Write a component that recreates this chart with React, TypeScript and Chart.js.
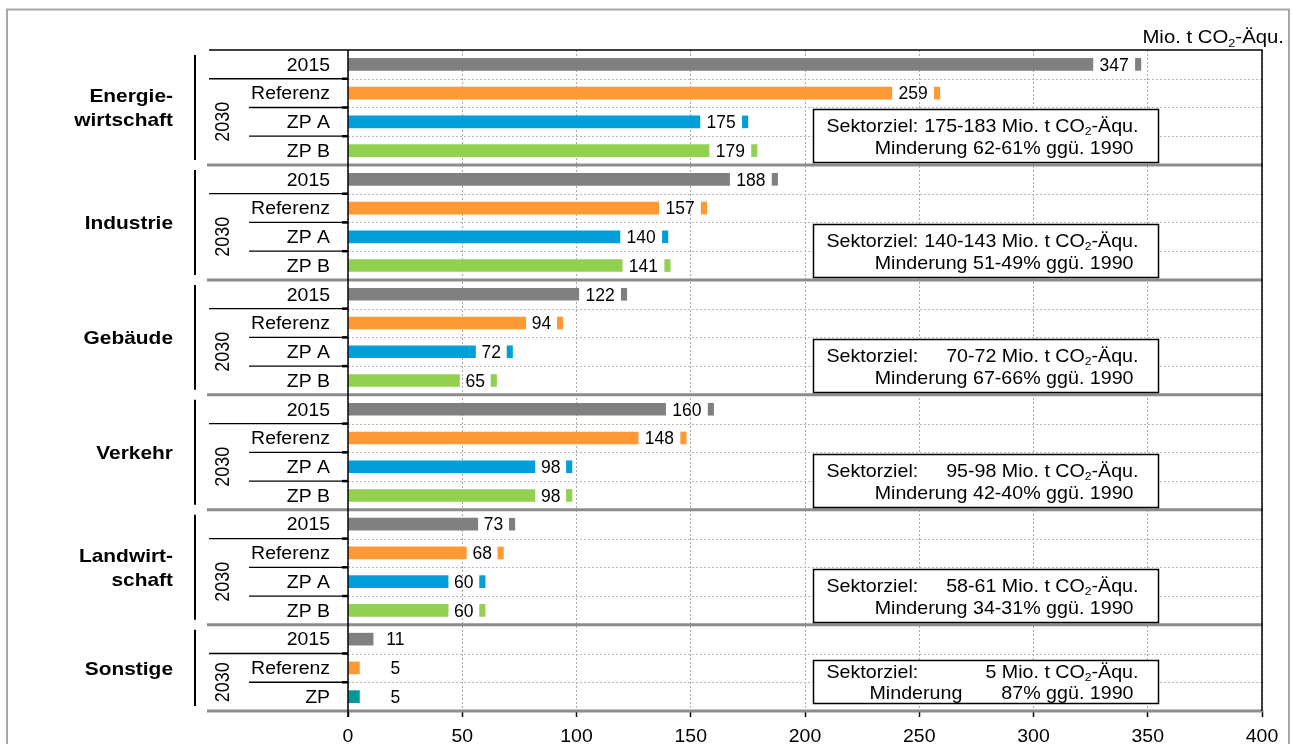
import React, { useEffect, useRef } from 'react';
import { Chart, registerables } from 'chart.js';

Chart.register(...registerables);

// ---------- data ----------
const sectorNames = ['Energiewirtschaft', 'Industrie', 'Gebäude', 'Verkehr', 'Landwirtschaft', 'Sonstige'];
const sectorLabelLines = [['Energie-', 'wirtschaft'], ['Industrie'], ['Gebäude'], ['Verkehr'], ['Landwirt-', 'schaft'], ['Sonstige']];
const scenarioLabels = ['2015', 'Referenz', 'ZP A', 'ZP B'];
const sonstigeScenarioLabels = ['2015', 'Referenz', 'ZP'];
const yearGroupLabel = '2030';

const values2015 = [347, 188, 122, 160, 73, 11];
const valuesReferenz = [259, 157, 94, 148, 68, 5];
const valuesZPA = [175, 140, 72, 98, 60];
const valuesZPB = [179, 141, 65, 98, 60];
const valuesZPSonstige = [5];

const targetRanges = ['175-183', '140-143', '70-72', '95-98', '58-61', '5'];
const reductionRanges = ['62-61%', '51-49%', '67-66%', '42-40%', '34-31%', '87%'];

const xTickValues = [0, 50, 100, 150, 200, 250, 300, 350, 400];
const unitLabel = 'Mio. t CO₂-Äqu.';

const scenarioColors: Record<string, string> = {
  '2015': '#808080',
  Referenz: '#FF9933',
  'ZP A': '#009FDA',
  'ZP B': '#92D050',
  ZP: '#009999',
};

// ---------- rows ----------
type Row = { id: string; sector: number; scenario: string; value: number; idx: number };
const rows: Row[] = [];
sectorNames.forEach((s, i) => {
  const isLast = i === sectorNames.length - 1;
  const scen = isLast ? sonstigeScenarioLabels : scenarioLabels;
  const vals = isLast
    ? [values2015[i], valuesReferenz[i], valuesZPSonstige[0]]
    : [values2015[i], valuesReferenz[i], valuesZPA[i], valuesZPB[i]];
  scen.forEach((sc, k) => rows.push({ id: s + '|' + sc, sector: i, scenario: sc, value: vals[k], idx: k }));
});

const SONSTIGE = sectorNames.length - 1;
const labelGap = (v: number) => String(v).length * 4.8 + 6.6; // room for the value label (axis units)
const markerWidth = 2.4;
const sonstigeLabelAt = 20.7;

const FONT = '"Liberation Sans", Arial, Helvetica, sans-serif';
const SX = 1.08;

function setFont(ctx: CanvasRenderingContext2D, size: number, bold = false) {
  ctx.font = `${bold ? 'bold ' : ''}${size}px ${FONT}`;
}

function textWidth(ctx: CanvasRenderingContext2D, text: string, size: number, sx = SX, bold = false) {
  setFont(ctx, size, bold);
  return ctx.measureText(text).width * sx;
}

function drawText(
  ctx: CanvasRenderingContext2D,
  text: string,
  x: number,
  y: number,
  size: number,
  align: CanvasTextAlign = 'left',
  sx = SX,
  bold = false,
) {
  ctx.save();
  ctx.translate(x, y);
  ctx.scale(sx, 1);
  setFont(ctx, size, bold);
  ctx.textAlign = align;
  ctx.textBaseline = 'alphabetic';
  ctx.fillStyle = '#000';
  ctx.fillText(text, 0, 0);
  ctx.restore();
}

// rich text: '₂' drawn as a real subscript
function splitRich(text: string) {
  const parts: { t: string; sub: boolean }[] = [];
  let cur = '';
  for (const ch of text) {
    if (ch === '₂') {
      if (cur) parts.push({ t: cur, sub: false });
      parts.push({ t: '2', sub: true });
      cur = '';
    } else cur += ch;
  }
  if (cur) parts.push({ t: cur, sub: false });
  return parts;
}

function richWidth(ctx: CanvasRenderingContext2D, text: string, size: number, sx = SX) {
  let w = 0;
  for (const p of splitRich(text)) {
    setFont(ctx, p.sub ? size * 0.62 : size);
    w += ctx.measureText(p.t).width * sx;
  }
  return w;
}

function drawRich(
  ctx: CanvasRenderingContext2D,
  text: string,
  x: number,
  y: number,
  size: number,
  align: 'left' | 'right' = 'left',
  sx = SX,
) {
  const total = richWidth(ctx, text, size, sx);
  let cx = align === 'right' ? x - total : x;
  for (const p of splitRich(text)) {
    const s = p.sub ? size * 0.62 : size;
    ctx.save();
    setFont(ctx, s);
    const w = ctx.measureText(p.t).width * sx;
    ctx.translate(cx, y + (p.sub ? 3.6 : 0));
    ctx.scale(sx, 1);
    ctx.textAlign = 'left';
    ctx.textBaseline = 'alphabetic';
    ctx.fillStyle = '#000';
    ctx.fillText(p.t, 0, 0);
    ctx.restore();
    cx += w;
  }
}

function line(ctx: CanvasRenderingContext2D, x1: number, y1: number, x2: number, y2: number, color: string, w: number, dash: number[] = []) {
  ctx.save();
  ctx.strokeStyle = color;
  ctx.lineWidth = w;
  ctx.setLineDash(dash);
  ctx.beginPath();
  ctx.moveTo(x1, y1);
  ctx.lineTo(x2, y2);
  ctx.stroke();
  ctx.restore();
}

const BOX_FONT = 18.2;

const decorPlugin = {
  id: 'decor',
  beforeDraw(chart: any) {
    const ctx: CanvasRenderingContext2D = chart.ctx;
    ctx.save();
    ctx.fillStyle = '#fff';
    ctx.fillRect(0, 0, chart.width, chart.height);
    ctx.strokeStyle = '#a6a6a6';
    ctx.lineWidth = 2;
    ctx.strokeRect(7, 9.5, 1282, 800);
    ctx.restore();
  },
  beforeDatasetsDraw(chart: any) {
    const ctx: CanvasRenderingContext2D = chart.ctx;
    const ca = chart.chartArea;
    const y = chart.scales.y;
    rows.forEach((r, i) => {
      if (i === rows.length - 1 || rows[i + 1].sector !== r.sector) return;
      const yb = Math.round((y.getPixelForValue(i) + y.getPixelForValue(i + 1)) / 2) + 0.5;
      line(ctx, ca.left, yb, ca.right, yb, '#b8b8b8', 1, [2, 2]);
    });
  },
  afterDatasetsDraw(chart: any) {
    const ctx: CanvasRenderingContext2D = chart.ctx;
    const ca = chart.chartArea;
    const x = chart.scales.x;
    const y = chart.scales.y;
    const rowH = (ca.bottom - ca.top) / rows.length;
    const tableLeft = 209;
    const subLeft = 249;

    // table lines and group separators
    rows.forEach((r, i) => {
      const yc = y.getPixelForValue(i);
      const yBottom = yc + rowH / 2;
      const lastInGroup = i === rows.length - 1 || rows[i + 1].sector !== r.sector;
      if (lastInGroup) {
        line(ctx, tableLeft - 2, yBottom, ca.right + 1, yBottom, '#8c8c8c', 3);
      } else {
        const left = r.idx === 0 ? tableLeft : subLeft;
        line(ctx, left, yBottom, ca.left, yBottom, '#000', 1.3);
        line(ctx, ca.left - 6, yBottom, ca.left, yBottom, '#000', 2.5);
      }
    });
    // top border of plot + table
    line(ctx, tableLeft, ca.top, ca.right + 0.75, ca.top, '#000', 1.5);
    // right border
    line(ctx, ca.right, ca.top, ca.right, ca.bottom, '#000', 1.5);
    // value axis line (x = 0)
    const x0 = x.getPixelForValue(0);
    line(ctx, x0, ca.top, x0, ca.bottom + 6, '#000', 1.5);

    // sector labels, brackets, "2030"
    sectorNames.forEach((s, si) => {
      const idxs = rows.map((r, i) => (r.sector === si ? i : -1)).filter((i) => i >= 0);
      const gTop = y.getPixelForValue(idxs[0]) - rowH / 2;
      const gBot = y.getPixelForValue(idxs[idxs.length - 1]) + rowH / 2;
      line(ctx, 195, gTop + 5, 195, gBot - 5, '#000', 2);
      const lines = sectorLabelLines[si];
      const cy = (gTop + gBot) / 2;
      lines.forEach((t, li) => {
        drawText(ctx, t, 173, cy + 7 + (li - (lines.length - 1) / 2) * 24, 19, 'right', 1.1, true);
      });
      // 2030 rotated
      const y1 = y.getPixelForValue(idxs[1]) - rowH / 2;
      const cy2 = (y1 + gBot) / 2;
      ctx.save();
      ctx.translate(222, cy2);
      ctx.scale(1.1, 1);
      ctx.rotate(-Math.PI / 2);
      setFont(ctx, 18);
      ctx.textAlign = 'center';
      ctx.textBaseline = 'alphabetic';
      ctx.fillStyle = '#000';
      ctx.fillText(yearGroupLabel, 0, 6.4);
      ctx.restore();

      // target box
      const lastIdx = idxs[idxs.length - 1];
      const boundary = (y.getPixelForValue(lastIdx - 1) + y.getPixelForValue(lastIdx)) / 2 - 1;
      const bh = si === SONSTIGE ? 43 : 53;
      const bl = Math.round(x.getPixelForValue(203.5)) + 0.5;
      const br = Math.round(x.getPixelForValue(354.5)) + 0.5;
      const bt = Math.round(boundary - bh / 2) + 0.5;
      ctx.save();
      ctx.fillStyle = '#fff';
      ctx.fillRect(bl, bt, br - bl, bh);
      ctx.strokeStyle = '#000';
      ctx.lineWidth = 1.5;
      ctx.strokeRect(bl, bt, br - bl, bh);
      ctx.restore();
      const b1 = boundary - 3.5;
      const b2 = boundary + (si === SONSTIGE ? 17.5 : 19);
      const rest1 = `${targetRanges[si]} Mio. t CO₂-Äqu.`;
      const rest1Start = br - 20 - richWidth(ctx, rest1, BOX_FONT);
      const head = 'Sektorziel:';
      const headW = textWidth(ctx, head, BOX_FONT);
      const spaceW = textWidth(ctx, ' ', BOX_FONT);
      const headX = Math.min(bl + 13, rest1Start - spaceW - headW);
      drawText(ctx, head, headX, b1, BOX_FONT, 'left');
      drawRich(ctx, rest1, br - 20, b1, BOX_FONT, 'right');
      if (si === SONSTIGE) {
        drawText(ctx, 'Minderung', bl + 56, b2, BOX_FONT, 'left');
        drawText(ctx, `${reductionRanges[si]} ggü. 1990`, br - 25, b2, BOX_FONT, 'right');
      } else {
        drawText(ctx, `Minderung ${reductionRanges[si]} ggü. 1990`, br - 25, b2, BOX_FONT, 'right');
      }
    });

    // row labels and value labels
    rows.forEach((r, i) => {
      const yc = y.getPixelForValue(i);
      drawText(ctx, r.scenario, 330, yc + 6.3, 18, 'right');
      const lv = r.sector === SONSTIGE ? sonstigeLabelAt : r.value - labelGap(r.value) / 2 - markerWidth / 2;
      drawText(ctx, String(r.value), x.getPixelForValue(lv), yc + 6.3, 17.5, 'center', 1.0);
    });

    // x tick labels
    xTickValues.forEach((v) => {
      drawText(ctx, String(v), x.getPixelForValue(v), 742, 18, 'center');
    });

    // unit label
    drawRich(ctx, unitLabel, 1284, 43, 18.5, 'right', 1.1);
  },
};

export default function App() {
  const ref = useRef<HTMLCanvasElement>(null);
  useEffect(() => {
    const canvas = ref.current;
    if (!canvas) return;
    const barData = rows.map((r) => [0, r.sector === SONSTIGE ? r.value : r.value - labelGap(r.value)]);
    const markerData = rows.map((r) => (r.sector === SONSTIGE ? null : [r.value - markerWidth, r.value]));
    const colors = rows.map((r) => scenarioColors[r.scenario]);
    const chart = new Chart(canvas, {
      type: 'bar',
      data: {
        labels: rows.map((r) => r.id),
        datasets: [
          {
            data: barData as any,
            backgroundColor: colors,
            borderWidth: 0,
            barThickness: 12,
            grouped: false,
          } as any,
          {
            data: markerData as any,
            backgroundColor: colors,
            borderWidth: 0,
            barThickness: 12,
            grouped: false,
          } as any,
        ],
      },
      options: {
        indexAxis: 'y',
        responsive: false,
        animation: false,
        devicePixelRatio: 1,
        events: [],
        layout: { padding: { left: 348, right: 30, top: 50, bottom: 0 } },
        plugins: { legend: { display: false }, tooltip: { enabled: false } },
        scales: {
          x: {
            type: 'linear',
            min: 0,
            max: 400,
            position: 'bottom',
            afterBuildTicks: (s: any) => {
              s.ticks = xTickValues.map((v) => ({ value: v }));
            },
            ticks: { display: false },
            grid: {
              color: '#a8a8a8',
              lineWidth: 1,
              drawTicks: true,
              tickLength: 6,
              tickColor: '#000',
              tickWidth: 1.5,
            },
            border: { display: false, dash: [2, 2] },
            afterFit: (s: any) => {
              s.height = 33;
            },
          } as any,
          y: {
            type: 'category',
            display: false,
            offset: true,
            grid: { display: false },
          },
        },
      },
      plugins: [decorPlugin],
    });
    return () => chart.destroy();
  }, []);
  return (
    <div style={{ position: 'fixed', left: 0, top: 0, width: 1292, height: 744, background: '#fff' }}>
      <canvas ref={ref} width={1292} height={744} style={{ width: 1292, height: 744, display: 'block' }} />
    </div>
  );
}
